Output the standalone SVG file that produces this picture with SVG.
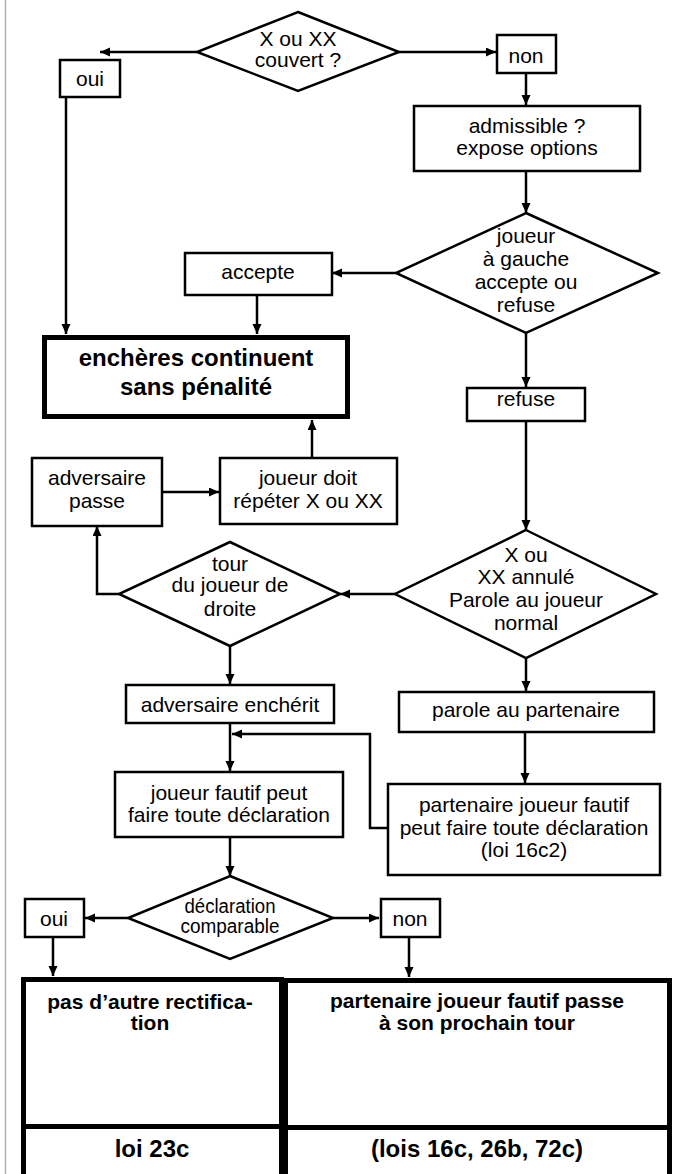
<svg xmlns="http://www.w3.org/2000/svg" width="673" height="1174" viewBox="0 0 673 1174">
<style>
.box{fill:#fff;stroke:#000;stroke-width:2.5}
.thick{fill:#fff;stroke:#000;stroke-width:5}
.c{fill:none;stroke:#000;stroke-width:2.5}
text{font-family:"Liberation Sans",Arial,sans-serif;font-size:21px;fill:#000;text-anchor:middle}
.b{font-weight:bold}
.b24{font-weight:bold;font-size:24px}
.tight{font-size:19.5px}
</style>
<defs>
<marker id="ah" markerUnits="userSpaceOnUse" markerWidth="11" markerHeight="10" refX="10" refY="4.5" orient="auto">
<path d="M0,0 L10,4.5 L0,9 z" fill="#000"/>
</marker>
</defs>
<rect width="673" height="1174" fill="#fff"/>
<line x1="5.5" y1="0" x2="5.5" y2="1174" stroke="#b0b0b0" stroke-width="1.5"/>

<g id="connectors">
<path class="c" d="M197,52 H100" marker-end="url(#ah)"/>
<path class="c" d="M399,52 H496" marker-end="url(#ah)"/>
<path class="c" d="M526,73 V105" marker-end="url(#ah)"/>
<path class="c" d="M526,171 V213" marker-end="url(#ah)"/>
<path class="c" d="M396,273 H332" marker-end="url(#ah)"/>
<path class="c" d="M66,97 V334" marker-end="url(#ah)"/>
<path class="c" d="M257,295 V334" marker-end="url(#ah)"/>
<path class="c" d="M526,333 V387" marker-end="url(#ah)"/>
<path class="c" d="M526,421 V530" marker-end="url(#ah)"/>
<path class="c" d="M395,594 H340" marker-end="url(#ah)"/>
<path class="c" d="M119,594 H97 V526" marker-end="url(#ah)"/>
<path class="c" d="M162,492 H219" marker-end="url(#ah)"/>
<path class="c" d="M312,457 V420" marker-end="url(#ah)"/>
<path class="c" d="M230,646 V684" marker-end="url(#ah)"/>
<path class="c" d="M230,723 V771" marker-end="url(#ah)"/>
<path class="c" d="M387,828 H370 V734 H232" marker-end="url(#ah)"/>
<path class="c" d="M526,658 V691" marker-end="url(#ah)"/>
<path class="c" d="M525,732 V783" marker-end="url(#ah)"/>
<path class="c" d="M230,837 V876" marker-end="url(#ah)"/>
<path class="c" d="M128,918 H85" marker-end="url(#ah)"/>
<path class="c" d="M333,918 H379" marker-end="url(#ah)"/>
<path class="c" d="M53,937 V976" marker-end="url(#ah)"/>
<path class="c" d="M409,937 V977" marker-end="url(#ah)"/>
</g>

<g id="n-couvert">
<polygon class="box" points="298,12 399,52 298,91 197,52"/>
<text x="298" y="46">X ou XX</text>
<text x="298" y="67">couvert ?</text>
</g>
<g id="n-oui1">
<rect class="box" x="60" y="60" width="60" height="37"/>
<text x="90" y="86">oui</text>
</g>
<g id="n-non1">
<rect class="box" x="497" y="35" width="59" height="38"/>
<text x="526" y="63">non</text>
</g>
<g id="n-admissible">
<rect class="box" x="414" y="106" width="226" height="65"/>
<text x="527" y="133">admissible ?</text>
<text x="527" y="155">expose options</text>
</g>
<g id="n-gauche">
<polygon class="box" points="526,213 658,273 526,333 396,273"/>
<text x="526" y="243">joueur</text>
<text x="526" y="266">à gauche</text>
<text x="526" y="289">accepte ou</text>
<text x="526" y="312">refuse</text>
</g>
<g id="n-accepte">
<rect class="box" x="185" y="253" width="147" height="42"/>
<text x="258" y="279">accepte</text>
</g>
<g id="n-continuent">
<rect class="thick" x="44.5" y="337.5" width="303" height="79"/>
<text class="b24" x="196" y="366">enchères continuent</text>
<text class="b24" x="196" y="395">sans pénalité</text>
</g>
<g id="n-refuse">
<rect class="box" x="467" y="388" width="118" height="33"/>
<text x="526" y="406">refuse</text>
</g>
<g id="n-annule">
<polygon class="box" points="526,530 656,594 526,658 395,594"/>
<text x="526" y="562">X ou</text>
<text x="526" y="584">XX annulé</text>
<text x="526" y="607">Parole au joueur</text>
<text x="526" y="630">normal</text>
</g>
<g id="n-passe">
<rect class="box" x="32" y="458" width="130" height="68"/>
<text x="97" y="485">adversaire</text>
<text x="97" y="508">passe</text>
</g>
<g id="n-repeter">
<rect class="box" x="220" y="458" width="177" height="66"/>
<text x="308" y="485">joueur doit</text>
<text x="308" y="508">répéter X ou XX</text>
</g>
<g id="n-tour">
<polygon class="box" points="230,542 340,594 230,646 119,594"/>
<text x="230" y="571">tour</text>
<text x="230" y="592">du joueur de</text>
<text x="230" y="616">droite</text>
</g>
<g id="n-encherit">
<rect class="box" x="126" y="685" width="208" height="38"/>
<text x="230" y="712">adversaire enchérit</text>
</g>
<g id="n-parole">
<rect class="box" x="399" y="692" width="255" height="40"/>
<text x="526" y="717">parole au partenaire</text>
</g>
<g id="n-fautif">
<rect class="box" x="115" y="772" width="228" height="65"/>
<text x="229" y="800">joueur fautif peut</text>
<text x="229" y="822">faire toute déclaration</text>
</g>
<g id="n-partenaire">
<rect class="box" x="388" y="784" width="272" height="91"/>
<text x="524" y="812">partenaire joueur fautif</text>
<text x="524" y="835">peut faire toute déclaration</text>
<text x="524" y="857">(loi 16c2)</text>
</g>
<g id="n-comparable">
<polygon class="box" points="230,876 333,918 230,959 128,918"/>
<text class="tight" x="230" y="913" textLength="91" lengthAdjust="spacingAndGlyphs">déclaration</text>
<text class="tight" x="230" y="933" textLength="99" lengthAdjust="spacingAndGlyphs">comparable</text>
</g>
<g id="n-oui2">
<rect class="box" x="25" y="899" width="59" height="38"/>
<text x="54" y="926">oui</text>
</g>
<g id="n-non2">
<rect class="box" x="381" y="899" width="59" height="38"/>
<text x="410" y="926">non</text>
</g>
<g id="n-rectification">
<rect class="thick" x="23.5" y="979.5" width="258" height="147"/>
<rect class="thick" x="23.5" y="1126.5" width="258" height="60"/>
<text class="b" x="150" y="1009">pas d’autre rectifica-</text>
<text class="b" x="150" y="1030">tion</text>
<text class="b24" x="152" y="1157">loi 23c</text>
</g>
<g id="n-prochain">
<rect class="thick" x="285.5" y="980.5" width="384" height="147"/>
<rect class="thick" x="285.5" y="1127.5" width="384" height="60"/>
<text class="b" x="477" y="1008">partenaire joueur fautif passe</text>
<text class="b" x="477" y="1030">à son prochain tour</text>
<text class="b24" x="477" y="1157">(lois 16c, 26b, 72c)</text>
</g>
</svg>
